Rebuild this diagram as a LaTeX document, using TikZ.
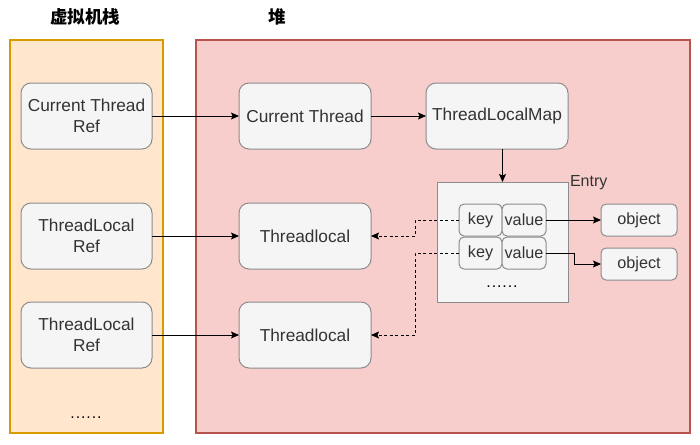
\documentclass[tikz,border=0pt]{standalone}
\usepackage{fontspec}
\setmainfont{Liberation Sans}
\newfontfamily\cjk{Noto Sans CJK SC}
\usetikzlibrary{arrows.meta}
\definecolor{stackfill}{HTML}{FFE6CC}
\definecolor{stackline}{HTML}{D79B00}
\definecolor{heapfill}{HTML}{F8CECC}
\definecolor{heapline}{HTML}{B85450}
\definecolor{boxfill}{HTML}{F5F5F5}
\definecolor{boxline}{HTML}{8C8C8C}
\definecolor{txt}{HTML}{333333}
\newcommand\sixdots{.\kern0.9pt.\kern0.9pt.\kern0.9pt.\kern0.9pt.\kern0.9pt.}
\tikzset{
  panel/.style={draw, line width=1.4pt, inner sep=0pt, outer sep=0pt},
  rbox/.style={draw=boxline, fill=boxfill, line width=1pt, rounded corners=10pt,
    inner sep=0pt, outer sep=0pt, text=txt, align=center,
    font=\fontsize{17.3}{21.5}\selectfont},
  sbox/.style={rbox, rounded corners=5pt, font=\fontsize{16.2}{19}\selectfont},
  plain/.style={inner sep=0pt, outer sep=0pt, text=txt, font=\fontsize{16}{19}\selectfont},
  title/.style={inner sep=0pt, font=\fontsize{17.5}{20}\cjk\bfseries},
  arr/.style={-{Stealth[length=8pt,width=7pt,inset=1.5pt]}, line width=0.9pt, black},
  darr/.style={arr, dash pattern=on 3pt off 2.5pt},
}
\begin{document}
\begin{tikzpicture}[x=1pt,y=-1pt]
\useasboundingbox (0,0) rectangle (700,444);
% panels
\node[panel, draw=stackline, fill=stackfill, minimum width=153pt, minimum height=393pt] (stack) at (86.5,236.5) {};
\node[panel, draw=heapline, fill=heapfill, minimum width=494pt, minimum height=393pt] (heap) at (443,236.5) {};
\node[title] (t1) at (85,17) {虚拟机栈};
\node[title] (t2) at (277,17) {堆};
% stack boxes
\node[rbox, minimum width=131pt, minimum height=66pt] (ctref) at (86.5,116) {Current Thread\\Ref};
\node[rbox, minimum width=131pt, minimum height=66pt] (tlref1) at (86.5,236) {ThreadLocal\\Ref};
\node[rbox, minimum width=131pt, minimum height=66pt] (tlref2) at (86.5,335) {ThreadLocal\\Ref};
\node[plain, text=black] (sdots) at (86,418) {\sixdots};
% heap boxes
\node[rbox, minimum width=132pt, minimum height=66pt] (ct) at (305,116) {Current Thread};
\node[rbox, minimum width=142pt, minimum height=66pt] (tlm) at (497,116) {ThreadLocalMap};
\node[rbox, minimum width=132pt, minimum height=66pt] (tl1) at (305,236) {Threadlocal};
\node[rbox, minimum width=132pt, minimum height=66pt] (tl2) at (305,335) {Threadlocal};
% entry
\node[draw=boxline, fill=boxfill, line width=1pt, inner sep=0pt, outer sep=0pt, minimum width=131pt, minimum height=120pt] (entry) at (502.5,242) {};
\node[plain, anchor=west] (elabel) at (570,183) {Entry};
\node[sbox, minimum width=43pt, minimum height=32pt] (key1) at (480.5,220) {key};
\node[sbox, minimum width=44pt, minimum height=32pt] (val1) at (524,220) {value};
\node[sbox, minimum width=43pt, minimum height=32pt] (key2) at (480.5,253) {key};
\node[sbox, minimum width=44pt, minimum height=32pt] (val2) at (524,253) {value};
\node[plain, text=black] (edots) at (502,287) {\sixdots};
\node[sbox, minimum width=76pt, minimum height=32pt] (obj1) at (639,220) {object};
\node[sbox, minimum width=76pt, minimum height=32pt] (obj2) at (639,264) {object};
% arrows
\draw[arr] (ctref.east) -- (ct.west);
\draw[arr] (tlref1.east) -- (tl1.west);
\draw[arr] (tlref2.east) -- (tl2.west);
\draw[arr] (ct.east) -- (tlm.west);
\draw[arr] (entry.north |- tlm.south) -- (entry.north);
\draw[arr] (val1.east) -- (obj1.west);
\draw[arr] (val2.east) -- ++(28,0) |- (obj2.west);
\draw[darr] (key1.west) -- ++(-44,0) |- (tl1.east);
\draw[darr] (key2.west) -- ++(-44,0) |- (tl2.east);
\end{tikzpicture}
\end{document}
